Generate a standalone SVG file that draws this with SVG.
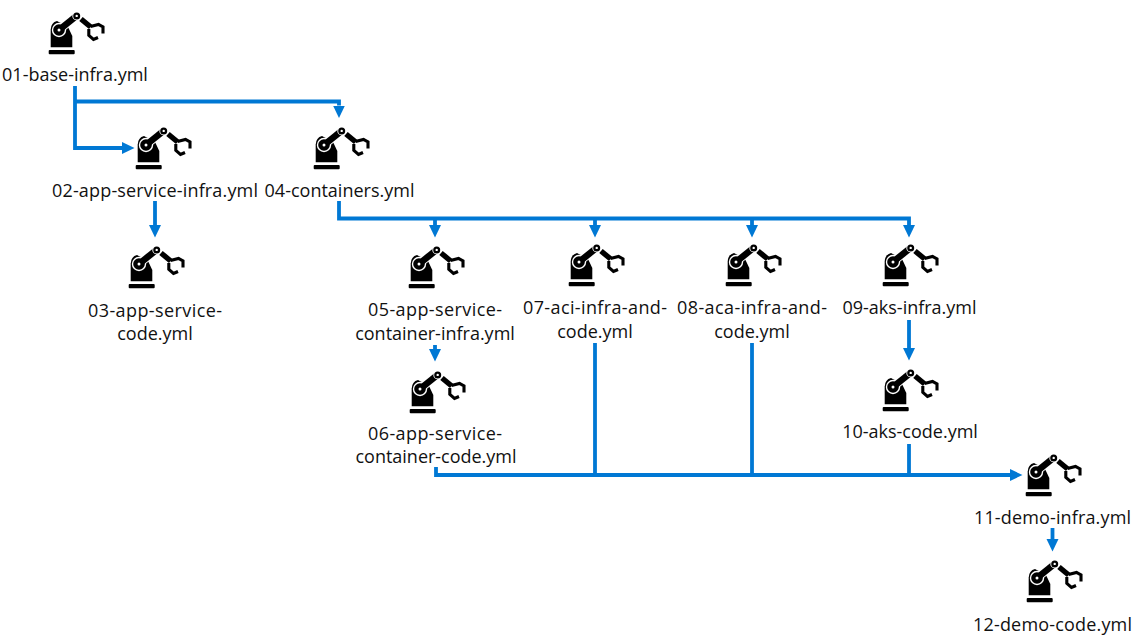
<svg xmlns="http://www.w3.org/2000/svg" xmlns:xlink="http://www.w3.org/1999/xlink" width="1139" height="639" viewBox="0 0 1139 639">
<style>
text{font-family:"Open Sans","Noto Sans","Liberation Sans",sans-serif;font-size:18px;fill:#111;text-anchor:middle}
.c{fill:none;stroke:#0078d4;stroke-width:3.8}
</style>
<defs>
<marker id="ah" markerUnits="userSpaceOnUse" markerWidth="13" markerHeight="13" refX="0" refY="6.5" orient="auto"><path d="M0,0.5L12.5,6.5L0,12.5z" fill="#0078d4"/></marker>
<g id="robot">
<rect x="0.7" y="37" width="26" height="4.3" rx="1" fill="#000"/>
<path d="M2.7,34.3V16.5Q3,9.5 9,8L20,14L24.3,23V34.3z" fill="#000"/>
<path d="M11,17L28.7,2.7" stroke="#fff" stroke-width="8.4" fill="none"/>
<circle cx="11" cy="17" r="7.2" fill="#fff"/>
<path d="M11,17L28.7,2.7" stroke="#000" stroke-width="6.6" fill="none"/>
<circle cx="11" cy="17" r="5.8" fill="#000"/>
<circle cx="11" cy="17" r="1.5" fill="#fff"/>
<circle cx="28.7" cy="2.9" r="4.4" fill="#fff"/>
<circle cx="28.7" cy="2.9" r="3.5" fill="#000"/>
<circle cx="28.7" cy="2.9" r="1.2" fill="#fff"/>
<path d="M33,6L42.7,14" stroke="#000" stroke-width="5.4" fill="none"/>
<path d="M42.5,13.5L50.5,11.5L55,14V20.5M40.8,16V22.3L45.5,26.5L50,24.5" stroke="#000" stroke-width="3.1" fill="none"/>
</g>
</defs>
<g id="connectors">
<path class="c" d="M75,86V148H122" marker-end="url(#ah)"/>
<path class="c" d="M75,101.5H339V105.5" marker-end="url(#ah)"/>
<path class="c" d="M155,201V225" marker-end="url(#ah)"/>
<path class="c" d="M339,201V218.5H909V225" marker-end="url(#ah)"/>
<path class="c" d="M435,218.5V225" marker-end="url(#ah)"/>
<path class="c" d="M595,218.5V225" marker-end="url(#ah)"/>
<path class="c" d="M752,218.5V225" marker-end="url(#ah)"/>
<path class="c" d="M435,345V349" marker-end="url(#ah)"/>
<path class="c" d="M909,320V348" marker-end="url(#ah)"/>
<path class="c" d="M436,467V475H1010" marker-end="url(#ah)"/>
<path class="c" d="M595,343V475"/>
<path class="c" d="M752,343V475"/>
<path class="c" d="M909,444V475"/>
<path class="c" d="M1052.5,528V539" marker-end="url(#ah)"/>
</g>
<g id="n01"><use xlink:href="#robot" href="#robot" x="48" y="13"/><text x="75" y="81">01-base-infra.yml</text></g>
<g id="n02"><use xlink:href="#robot" href="#robot" x="135" y="128"/><text x="155" y="197" textLength="206">02-app-service-infra.yml</text></g>
<g id="n03"><use xlink:href="#robot" href="#robot" x="128" y="247"/><text x="155" y="317" textLength="134">03-app-service-</text><text x="155" y="340">code.yml</text></g>
<g id="n04"><use xlink:href="#robot" href="#robot" x="313" y="128"/><text x="339.5" y="197">04-containers.yml</text></g>
<g id="n05"><use xlink:href="#robot" href="#robot" x="408" y="247"/><text x="435" y="316" textLength="134">05-app-service-</text><text x="435" y="340">container-infra.yml</text></g>
<g id="n06"><use xlink:href="#robot" href="#robot" x="409" y="372"/><text x="435" y="440" textLength="134">06-app-service-</text><text x="436" y="463" textLength="161">container-code.yml</text></g>
<g id="n07"><use xlink:href="#robot" href="#robot" x="568" y="245"/><text x="595" y="314" textLength="144">07-aci-infra-and-</text><text x="595" y="338">code.yml</text></g>
<g id="n08"><use xlink:href="#robot" href="#robot" x="725" y="245"/><text x="752" y="314" textLength="150">08-aca-infra-and-</text><text x="752" y="338">code.yml</text></g>
<g id="n09"><use xlink:href="#robot" href="#robot" x="882" y="245"/><text x="909.5" y="314">09-aks-infra.yml</text></g>
<g id="n10"><use xlink:href="#robot" href="#robot" x="882" y="370"/><text x="910" y="438">10-aks-code.yml</text></g>
<g id="n11"><use xlink:href="#robot" href="#robot" x="1025" y="455"/><text x="1052.5" y="524" textLength="157">11-demo-infra.yml</text></g>
<g id="n12"><use xlink:href="#robot" href="#robot" x="1026" y="561"/><text x="1052.5" y="631" textLength="159">12-demo-code.yml</text></g>
</svg>
